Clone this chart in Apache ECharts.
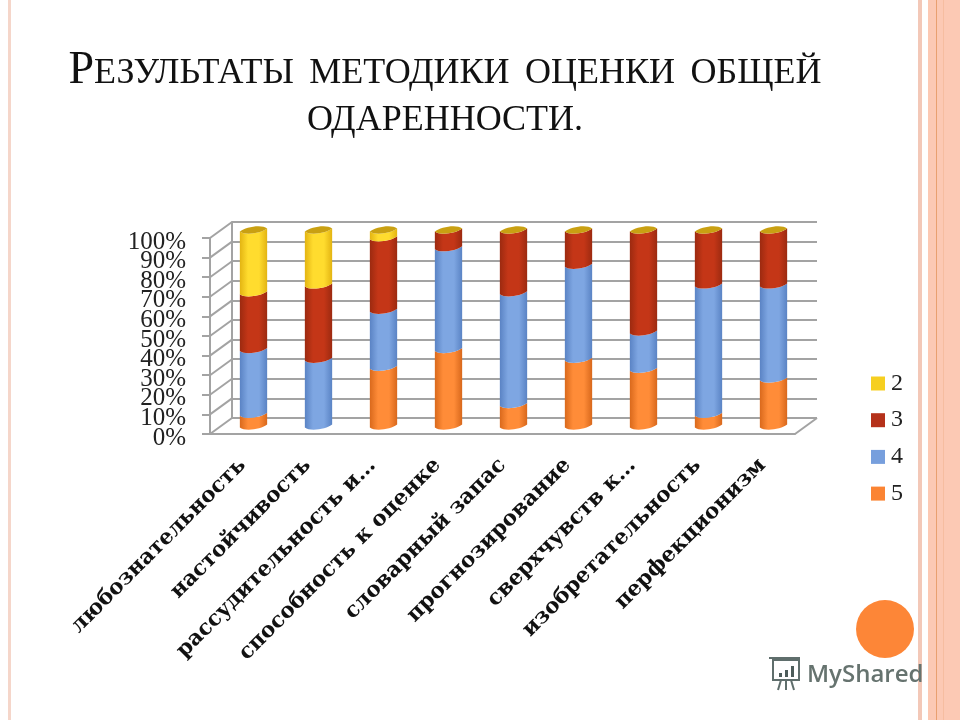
<!DOCTYPE html>
<html>
<head>
<meta charset="utf-8">
<style>
  html, body { margin: 0; padding: 0; background: #fff; }
  #chart { width: 960px; height: 720px; }
</style>
<script src="https://cdn.jsdelivr.net/npm/echarts@6/dist/echarts.min.js"></script>
</head>
<body>
<div id="chart"></div>
<script>
// данные диаграммы
var categories = ['любознательность', 'настойчивость', 'рассудительность и…', 'способность к оценке',
  'словарный запас', 'прогнозирование', 'сверхчувств к…', 'изобретательность', 'перфекционизм'];
var values5 = [6, 0, 30, 39, 11, 34, 29, 6, 24];
var values4 = [33, 34, 29, 52, 57, 48, 19, 66, 48];
var values3 = [29, 38, 37, 9, 32, 18, 52, 28, 28];
var values2 = [32, 28, 4, 0, 0, 0, 0, 0, 0];
var yTickLabels = ['0%', '10%', '20%', '30%', '40%', '50%', '60%', '70%', '80%', '90%', '100%'];

var serif = '"Liberation Serif", serif';
var axisGray = '#a3a3a3';

// левый, средний, правый тон цилиндра
var palette = {
  '5': ['#d9691c', '#ff8c38', '#d8681c', '#fb8433'],
  '4': ['#5a83c4', '#7ea6e2', '#5a83c4', '#779fdd'],
  '3': ['#9c2a10', '#c43617', '#9c2a10', '#b5311a'],
  '2': ['#e3b412', '#ffdc2e', '#e3b412', '#f6cf20']
};

function makeRows(list, below) {
  return list.map(function (v, i) {
    var from = below[i];
    below[i] = from + v;
    return [i, from, from + v];
  });
}

// дуга от левого края к правому, прогиб вниз (sign = 1) или вверх (sign = -1)
function arc(x1, y1, x2, y2, sign) {
  var w = x2 - x1, deep = 4.5 * sign;
  return 'C' + (x1 + w * 0.2) + ' ' + (y1 + deep) + ' ' + (x2 - w * 0.2) + ' ' + (y2 + deep) + ' ' + x2 + ' ' + y2;
}

function cylinderItem(name, isTop) {
  var c = palette[name];
  return function (params, api) {
    var low = api.coord([api.value(0), api.value(1)]);
    var high = api.coord([api.value(0), api.value(2)]);
    var half = api.size([1, 0])[0] * 0.21;
    var l = low[0] - half, r = low[0] + half, tilt = 1.5;
    var children = [];
    if (api.value(2) > api.value(1)) {
      var d = 'M' + l + ' ' + (high[1] + tilt) +
        arc(l, high[1] + tilt, r, high[1] - tilt, 1) +
        'L' + r + ' ' + (low[1] - tilt) +
        arc(r, low[1] - tilt, l, low[1] + tilt, 1) + 'Z';
      children.push({
        type: 'path',
        shape: { pathData: d },
        style: {
          fill: new echarts.graphic.LinearGradient(0, 0, 1, 0, [
            { offset: 0, color: c[0] }, { offset: 0.3, color: c[1] },
            { offset: 0.7, color: c[1] }, { offset: 1, color: c[2] }
          ])
        }
      });
    }
    if (isTop) {
      var cap = 'M' + l + ' ' + (high[1] + tilt) +
        arc(l, high[1] + tilt, r, high[1] - tilt, 1) +
        arc(r, high[1] - tilt, l, high[1] + tilt, -1) + 'Z';
      children.push({ type: 'path', shape: { pathData: cap }, style: { fill: '#c9a012' } });
    }
    return { type: 'group', children: children };
  };
}

var below = values5.map(function () { return 0; });
var rows5 = makeRows(values5, below);
var rows4 = makeRows(values4, below);
var rows3 = makeRows(values3, below);
var rows2 = makeRows(values2, below);

function cylinderSeries(name, rows, isTop) {
  return {
    name: name,
    type: 'custom',
    xAxisIndex: 1,
    yAxisIndex: 1,
    z: 5,
    itemStyle: { color: palette[name][3] },
    encode: { x: 0, y: [1, 2] },
    renderItem: cylinderItem(name, isTop),
    data: rows
  };
}

function hiddenAxis(i) {
  return { type: 'value', gridIndex: i, min: 0, max: 100, interval: 10, show: false };
}

var option = {
  backgroundColor: '#fff',
  animation: false,
  title: {
    left: 440, top: 40, textAlign: 'center',
    text: '{a|Р}{b|ЕЗУЛЬТАТЫ}{s| }{b|МЕТОДИКИ}{s| }{b|ОЦЕНКИ}{s| }{b|ОБЩЕЙ}\n{b|ОДАРЕННОСТИ.}',
    textStyle: {
      rich: {
        a: { fontFamily: serif, fontSize: 46, fontWeight: 'normal', color: '#111', lineHeight: 49, verticalAlign: 'bottom' },
        b: { fontFamily: serif, fontSize: 36, fontWeight: 'normal', color: '#111', lineHeight: 47, verticalAlign: 'bottom', padding: [0, 0, 2, 0] },
        s: { fontFamily: serif, fontSize: 62, fontWeight: 'normal', color: '#111', lineHeight: 47, verticalAlign: 'bottom', padding: [0, 0, 2, 0] }
      }
    }
  },
  legend: {
    left: 866, top: 366.5, orient: 'vertical', itemWidth: 14, itemHeight: 14, itemGap: 12.7,
    icon: 'rect', selectedMode: false,
    textStyle: { fontFamily: serif, fontSize: 24, lineHeight: 23, color: '#222', padding: [0, 0, 0, 1] },
    data: ['2', '3', '4', '5']
  },
  grid: [
    { left: 210, top: 238, width: 585, height: 196 }, // передняя плоскость, подписи
    { left: 221, top: 230, width: 585, height: 196 }, // плоскость столбцов
    { left: 232, top: 222, width: 585, height: 196 }  // задняя стенка
  ],
  xAxis: [
    {
      type: 'category', gridIndex: 0, data: categories,
      axisLine: { lineStyle: { color: axisGray, width: 2 } },
      axisTick: { length: 8, lineStyle: { color: axisGray, width: 2 } },
      axisLabel: {
        interval: 0, rotate: 45, margin: 28, color: '#111',
        fontFamily: '"DejaVu Serif", serif', fontWeight: 'bold', fontSize: 21.5
      }
    },
    { type: 'category', gridIndex: 1, data: categories, show: false },
    { type: 'category', gridIndex: 2, data: categories, show: false }
  ],
  yAxis: [
    {
      // категориальная ось: только так видны все подписи, они в оригинале наезжают друг на друга
      type: 'category', gridIndex: 0, data: yTickLabels, boundaryGap: false,
      axisLine: { show: true, lineStyle: { color: axisGray, width: 2 } },
      axisTick: { show: true, length: 8, interval: 0, lineStyle: { color: axisGray, width: 2 } },
      splitLine: { show: false },
      axisLabel: {
        interval: 0, margin: 24, color: '#222', fontFamily: serif, fontSize: 25,
        verticalAlign: 'top', lineHeight: 8
      }
    },
    hiddenAxis(1),
    {
      type: 'value', gridIndex: 2, min: 0, max: 100, interval: 10,
      axisLine: { show: true, lineStyle: { color: axisGray, width: 2 } },
      axisTick: { show: false },
      axisLabel: { show: false },
      splitLine: { show: true, lineStyle: { color: axisGray, width: 2 } }
    }
  ],
  series: [
    {
      // диагонали боковой стенки и пола
      type: 'custom', xAxisIndex: 0, yAxisIndex: 0, z: 1, silent: true,
      encode: { x: 0, y: 1 },
      renderItem: function (params, api) {
        var p = api.coord([api.value(0), api.value(1)]);
        var x = api.value(2) ? p[0] + 292.5 : p[0] - 32.5;
        return {
          type: 'line',
          shape: { x1: x, y1: p[1], x2: x + 22, y2: p[1] - 16 },
          style: { stroke: axisGray, lineWidth: 2 }
        };
      },
      data: yTickLabels.map(function (t, i) { return [0, i, 0]; }).concat([[4, 0, 1]])
    },
    cylinderSeries('5', rows5, false),
    cylinderSeries('4', rows4, false),
    cylinderSeries('3', rows3, false),
    cylinderSeries('2', rows2, true)
  ],
  graphic: [
    { type: 'rect', z: -1, shape: { x: 8, y: 0, width: 3, height: 720 }, style: { fill: '#f5d6ca' } },
    { type: 'rect', z: -1, shape: { x: 918, y: 0, width: 4, height: 720 }, style: { fill: '#f3c8b8' } },
    { type: 'rect', z: -1, shape: { x: 928, y: 0, width: 32, height: 720 }, style: { fill: '#fcc9b4' } },
    { type: 'rect', z: -1, shape: { x: 936, y: 0, width: 1, height: 720 }, style: { fill: '#e9a070' } },
    { type: 'rect', z: -1, shape: { x: 943, y: 0, width: 1, height: 720 }, style: { fill: '#f6bda0' } },
    { type: 'circle', shape: { cx: 885, cy: 629, r: 29 }, style: { fill: '#fd8637' } },
    // значок и подпись MyShared
    { type: 'rect', shape: { x: 773, y: 660, width: 26, height: 20 }, style: { fill: 'none', stroke: '#5f6e6c', lineWidth: 2 } },
    { type: 'line', shape: { x1: 769, y1: 658, x2: 800, y2: 658 }, style: { stroke: '#5f6e6c', lineWidth: 2 } },
    { type: 'rect', shape: { x: 779, y: 673, width: 3, height: 4 }, style: { fill: '#4d5c5a' } },
    { type: 'rect', shape: { x: 785, y: 670, width: 3, height: 7 }, style: { fill: '#4d5c5a' } },
    { type: 'rect', shape: { x: 791, y: 666, width: 3, height: 11 }, style: { fill: '#4d5c5a' } },
    { type: 'line', shape: { x1: 781, y1: 680, x2: 778, y2: 690 }, style: { stroke: '#5f6e6c', lineWidth: 2 } },
    { type: 'line', shape: { x1: 786, y1: 680, x2: 786, y2: 690 }, style: { stroke: '#5f6e6c', lineWidth: 2 } },
    { type: 'line', shape: { x1: 791, y1: 680, x2: 794, y2: 690 }, style: { stroke: '#5f6e6c', lineWidth: 2 } },
    {
      type: 'text', x: 807, y: 663,
      style: { text: 'MyShared', fontFamily: '"Open Sans", sans-serif', fontSize: 24, fontWeight: 600, fill: '#66736f' }
    }
  ]
};

var myChart = echarts.init(document.getElementById('chart'));
myChart.setOption(option);
</script>
</body>
</html>
